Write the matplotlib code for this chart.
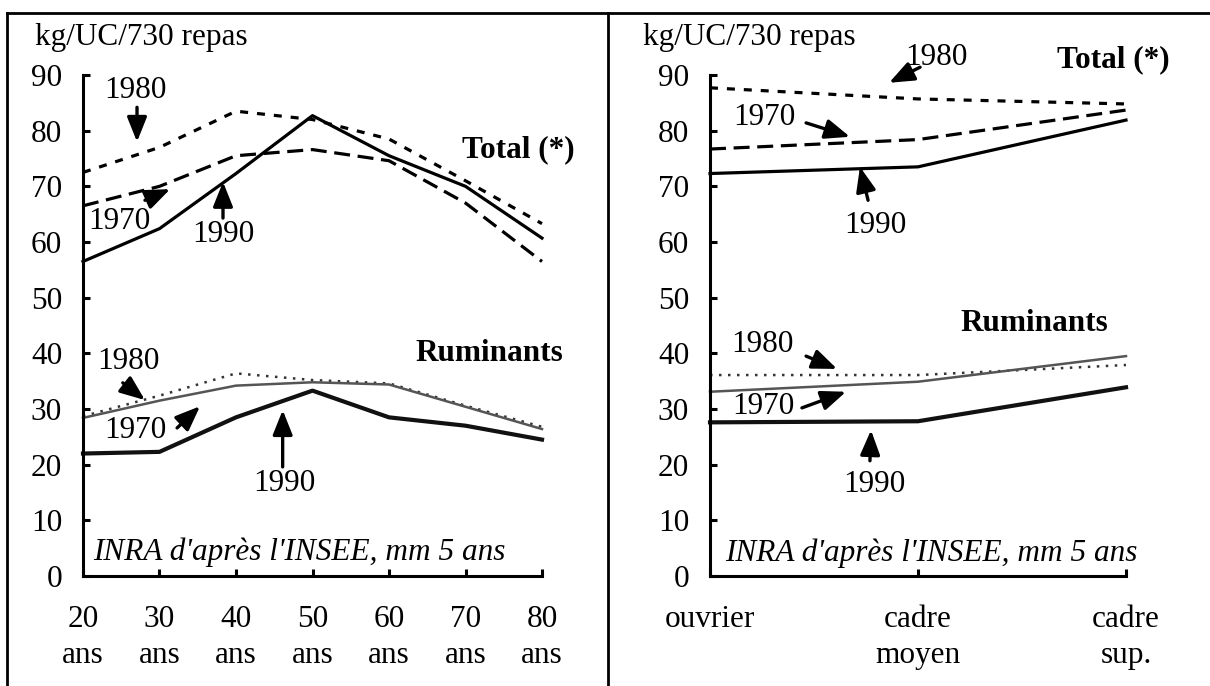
import numpy as np
import matplotlib
matplotlib.use("Agg")
import matplotlib.pyplot as plt
from matplotlib.lines import Line2D

plt.rcParams['font.family'] = ['Liberation Serif', 'DejaVu Serif']
FS = 22.5

# données : par âge
ages = [20, 30, 40, 50, 60, 70, 80]
age_labels = ['20\nans', '30\nans', '40\nans', '50\nans', '60\nans', '70\nans', '80\nans']
total_1970_age = [66.5, 70.0, 75.5, 76.6, 74.6, 67.0, 56.5]
total_1980_age = [72.5, 77.0, 83.5, 82.0, 78.5, 71.0, 63.3]
total_1990_age = [56.5, 62.4, 72.3, 82.7, 75.5, 70.0, 60.7]
rum_1970_age = [28.4, 31.5, 34.2, 34.8, 34.4, 30.4, 26.4]
rum_1980_age = [28.7, 32.4, 36.4, 35.2, 34.6, 30.6, 26.8]
rum_1990_age = [22.0, 22.3, 28.5, 33.3, 28.5, 27.0, 24.5]

# données : par CSP
csp_labels = ['ouvrier', 'cadre\nmoyen', 'cadre\nsup.']
total_1970_csp = [76.7, 78.4, 83.7]
total_1980_csp = [87.7, 85.7, 84.8]
total_1990_csp = [72.3, 73.5, 81.9]
rum_1970_csp = [33.1, 34.9, 39.5]
rum_1980_csp = [36.1, 36.1, 37.9]
rum_1990_csp = [27.6, 27.8, 33.9]

W, H = 1210, 686
fig = plt.figure(figsize=(W / 100, H / 100), dpi=100)

ax1 = fig.add_axes([83 / W, 1 - 576 / H, 459 / W, 501 / H])
ax2 = fig.add_axes([710 / W, 1 - 576 / H, 416 / W, 501 / H])

short_dash = (0, (2.5, 2.8))
long_dash = (0, (5.0, 2.4))
dots = (0, (1.0, 2.6))


def draw(ax, x, t70, t80, t90, r70, r80, r90):
    ax.plot(x, t80, color='black', lw=2.3, ls=short_dash, clip_on=False)
    ax.plot(x, t70, color='black', lw=2.3, ls=long_dash, clip_on=False)
    ax.plot(x, t90, color='black', lw=2.3, clip_on=False)
    ax.plot(x, r80, color='#333333', lw=1.8, ls=dots, clip_on=False)
    ax.plot(x, r70, color='#555555', lw=1.8, clip_on=False)
    ax.plot(x, r90, color='#111111', lw=3.0, clip_on=False)


x2 = np.arange(len(csp_labels))
draw(ax1, ages, total_1970_age, total_1980_age, total_1990_age,
     rum_1970_age, rum_1980_age, rum_1990_age)
draw(ax2, x2, total_1970_csp, total_1980_csp, total_1990_csp,
     rum_1970_csp, rum_1980_csp, rum_1990_csp)

ax1.set_xlim(20, 80)
ax1.set_xticks(ages)
ax1.set_xticklabels(age_labels)
ax2.set_xlim(0, 2)
ax2.set_xticks(x2)
ax2.set_xticklabels(csp_labels)

for ax in (ax1, ax2):
    ax.set_ylim(0, 90)
    ax.set_yticks(range(0, 91, 10))
    ax.set_facecolor('none')
    for s in ('top', 'right'):
        ax.spines[s].set_visible(False)
    for s in ('left', 'bottom'):
        ax.spines[s].set_linewidth(2.2)
    ax.tick_params(direction='in', length=5, width=2.2, labelsize=FS)
    ax.tick_params(axis='y', pad=15)
    ax.tick_params(axis='x', pad=21)
    for lab in ax.get_xticklabels():
        lab.set_linespacing(1.3)


def arrow(ax, txt, xt, yt, xa0, ya0, xa1, ya1):
    ax.text(xt, yt, txt, fontsize=FS, ha='center', va='center', clip_on=False)
    ax.annotate('', xy=(xa1, ya1), xytext=(xa0, ya0),
                arrowprops=dict(arrowstyle='-|>,head_length=0.75,head_width=0.3',
                                lw=2.4, color='black', mutation_scale=20,
                                shrinkA=0, shrinkB=0),
                annotation_clip=False)


# annotations panneau âge
arrow(ax1, '1980', 26.8, 87.3, 27.06, 84.2, 27.06, 78.0)
arrow(ax1, '1970', 24.8, 63.6, 28.1, 67.5, 31.4, 69.5)
arrow(ax1, '1990', 38.4, 61.3, 38.3, 64.3, 38.3, 70.8)
arrow(ax1, '1980', 25.9, 38.6, 25.2, 34.7, 28.1, 31.6)
arrow(ax1, '1970', 26.8, 26.2, 32.3, 26.6, 35.3, 30.5)
arrow(ax1, '1990', 46.3, 16.7, 46.1, 19.6, 46.1, 29.8)
ax1.text(69.5, 76.5, 'Total (*)', fontsize=FS, fontweight='bold', va='center')
ax1.text(63.4, 39.9, 'Ruminants', fontsize=FS, fontweight='bold', va='center')
ax1.text(21.3, 4.3, "INRA d'après l'INSEE, mm 5 ans", fontsize=FS,
         style='italic', va='center')

# annotations panneau CSP
arrow(ax2, '1980', 1.087, 93.2, 1.01, 91.4, 0.861, 88.6)
arrow(ax2, '1970', 0.26, 82.3, 0.462, 81.4, 0.673, 78.9)
arrow(ax2, '1990', 0.793, 62.9, 0.76, 67.5, 0.721, 73.5)
arrow(ax2, '1980', 0.25, 41.5, 0.462, 39.5, 0.611, 37.2)
arrow(ax2, '1970', 0.255, 30.4, 0.442, 30.2, 0.654, 33.1)
arrow(ax2, '1990', 0.788, 16.5, 0.769, 20.7, 0.774, 26.2)
ax2.text(1.668, 92.7, 'Total (*)', fontsize=FS, fontweight='bold', va='center',
         clip_on=False)
ax2.text(1.202, 45.4, 'Ruminants', fontsize=FS, fontweight='bold', va='center')
ax2.text(0.072, 4.1, "INRA d'après l'INSEE, mm 5 ans", fontsize=FS,
         style='italic', va='center')

fig.text(35 / W, 1 - 38 / H, 'kg/UC/730 repas', fontsize=FS, va='center')
fig.text(643 / W, 1 - 38 / H, 'kg/UC/730 repas', fontsize=FS, va='center')

# cadre
for xs, ys in [([7, 7], [13, H]), ([7, W], [13, 13]), ([608, 608], [13, H])]:
    fig.add_artist(Line2D([x / W for x in xs], [1 - y / H for y in ys],
                          color='black', lw=2.0))

fig.savefig('out.png', dpi=100)
